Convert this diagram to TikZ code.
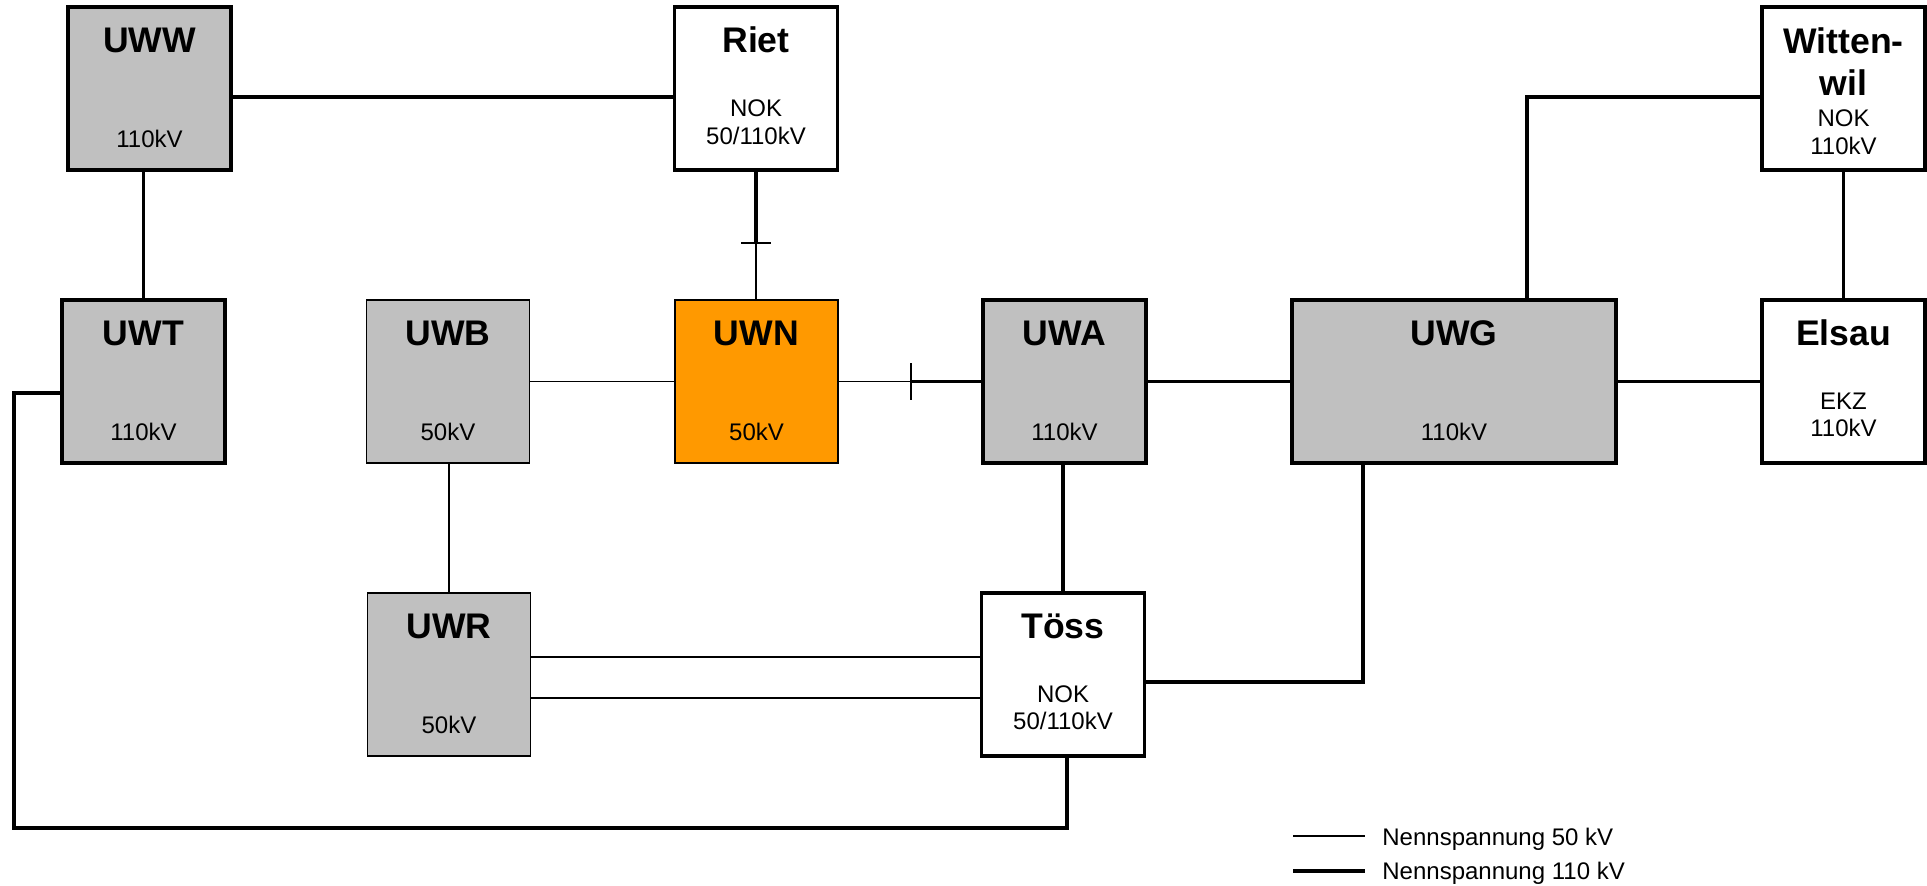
\documentclass[tikz,border=0pt]{standalone}
\usepackage{fontspec}
\setmainfont{Liberation Sans}
\usetikzlibrary{calc}
\definecolor{boxgray}{HTML}{C0C0C0}
\definecolor{boxorange}{HTML}{FF9900}
\begin{document}
\begin{tikzpicture}[x=0.5pt,y=-0.5pt,
  stbox/.style={draw=black,line width=1.7pt,minimum width=81.5pt,minimum height=81.5pt,inner sep=0pt,outer sep=0pt},
  stthin/.style={stbox,line width=0.8pt},
  stwide/.style={stbox,minimum width=162pt},
  ttl/.style={font=\bfseries\fontsize{17.8}{21}\selectfont,anchor=base,inner sep=0pt},
  sub/.style={font=\fontsize{12}{14}\selectfont,anchor=base,inner sep=0pt},
  lthin/.style={line width=0.8pt},
  lthick/.style={line width=1.8pt},
  lleg/.style={line width=2.4pt}]
\useasboundingbox (0,0) rectangle (1927,885);
% boxes
\node[stbox,fill=boxgray] (uww) at (149.5,88.5) {};
\node[stbox,fill=white] (riet) at (756,88.5) {};
\node[stbox,fill=white] (witt) at (1843.5,88.5) {};
\node[stbox,fill=boxgray] (uwt) at (143.5,381.5) {};
\node[stthin,fill=boxgray] (uwb) at (448,381.5) {};
\node[stthin,fill=boxorange] (uwn) at (756.5,381.5) {};
\node[stbox,fill=boxgray] (uwa) at (1064.5,381.5) {};
\node[stwide,fill=boxgray] (uwg) at (1454,381.5) {};
\node[stbox,fill=white] (elsau) at (1843.5,381.5) {};
\node[stthin,fill=boxgray] (uwr) at (449,674.5) {};
\node[stbox,fill=white] (toess) at (1063,674.5) {};
% texts
\node[ttl] (uww-t) at ($(uww.north)+(0,45)$) {UWW};
\node[sub] (uww-v) at ($(uww.north)+(0,140)$) {110kV};
\node[ttl] (riet-t) at ($(riet.north)+(0,45)$) {Riet};
\node[sub] (riet-o) at ($(riet.north)+(0,109)$) {NOK};
\node[sub] (riet-v) at ($(riet.north)+(0,137)$) {50/110kV};
\node[ttl] (witt-t) at ($(witt.north)+(0,46)$) {Witten-};
\node[ttl] (witt-t2) at ($(witt.north)+(0,88)$) {wil};
\node[sub] (witt-o) at ($(witt.north)+(0,119)$) {NOK};
\node[sub] (witt-v) at ($(witt.north)+(0,147)$) {110kV};
\node[ttl] (uwt-t) at ($(uwt.north)+(0,45)$) {UWT};
\node[sub] (uwt-v) at ($(uwt.north)+(0,140)$) {110kV};
\node[ttl] (uwb-t) at ($(uwb.north)+(0,45)$) {UWB};
\node[sub] (uwb-v) at ($(uwb.north)+(0,140)$) {50kV};
\node[ttl] (uwn-t) at ($(uwn.north)+(0,45)$) {UWN};
\node[sub] (uwn-v) at ($(uwn.north)+(0,140)$) {50kV};
\node[ttl] (uwa-t) at ($(uwa.north)+(0,45)$) {UWA};
\node[sub] (uwa-v) at ($(uwa.north)+(0,140)$) {110kV};
\node[ttl] (uwg-t) at ($(uwg.north)+(0,45)$) {UWG};
\node[sub] (uwg-v) at ($(uwg.north)+(0,140)$) {110kV};
\node[ttl] (elsau-t) at ($(elsau.north)+(0,45)$) {Elsau};
\node[sub] (elsau-o) at ($(elsau.north)+(0,109)$) {EKZ};
\node[sub] (elsau-v) at ($(elsau.north)+(0,136)$) {110kV};
\node[ttl] (uwr-t) at ($(uwr.north)+(0,45)$) {UWR};
\node[sub] (uwr-v) at ($(uwr.north)+(0,140)$) {50kV};
\node[ttl] (toess-t) at ($(toess.north)+(0,45)$) {Töss};
\node[sub] (toess-o) at ($(toess.north)+(0,109)$) {NOK};
\node[sub] (toess-v) at ($(toess.north)+(0,136)$) {50/110kV};
% helper coordinates
\coordinate (tick1) at ($(riet.south |- uwn.north)+(0,-57)$);
\coordinate (tick2) at ($(uwa.west)+(-72,0)$);
\coordinate (cbl) at (14,828);
% connectors
\draw[lthick] ([yshift=-4.25pt]uww.east) -- ([yshift=-4.25pt]riet.west);
\draw[lthick] (uwt.north) -- (uwt.north |- uww.south);
\draw[lthick] (riet.south) -- (tick1);
\draw[lthin] (tick1) -- (tick1 |- uwn.north);
\draw[lthin] ([xshift=-7.5pt]tick1) -- ([xshift=7.5pt]tick1);
\draw[lthin] (uwb.east) -- (uwn.west);
\draw[lthin] (uwn.east) -- (tick2);
\draw[lthick] (tick2) -- (uwa.west);
\draw[lthin] ([yshift=9.25pt]tick2) -- ([yshift=-9.25pt]tick2);
\draw[lthick] (uwa.east) -- (uwg.west);
\draw[lthick] (uwg.east) -- (elsau.west);
\draw[lthick] ([xshift=36.5pt]uwg.north) |- ([yshift=-4.25pt]witt.west);
\draw[lthick] (witt.south) -- (elsau.north);
\draw[lthin] (uwr.north) -- (uwr.north |- uwb.south);
\draw[lthin] ([yshift=8.75pt]uwr.east) -- ([yshift=8.75pt]toess.west);
\draw[lthin] ([yshift=-11.75pt]uwr.east) -- ([yshift=-11.75pt]toess.west);
\draw[lthick] (toess.north) -- (toess.north |- uwa.south);
\draw[lthick] ([yshift=-3.75pt]toess.east) -| ([xshift=-45.5pt]uwg.south);
\draw[lthick] ([xshift=2pt]toess.south) |- (cbl) |- ([yshift=-5.75pt]uwt.west);
% legend
\coordinate (leg1a) at (1293,836);
\coordinate (leg1b) at (1365,836);
\coordinate (leg2a) at (1293,871);
\coordinate (leg2b) at (1365,871);
\draw[lthin] (leg1a) -- (leg1b);
\draw[lleg] (leg2a) -- (leg2b);
\node[sub,anchor=base west] (leg1t) at (1382,845) {Nennspannung 50 kV};
\node[sub,anchor=base west] (leg2t) at (1382,879) {Nennspannung 110 kV};
\end{tikzpicture}
\end{document}
